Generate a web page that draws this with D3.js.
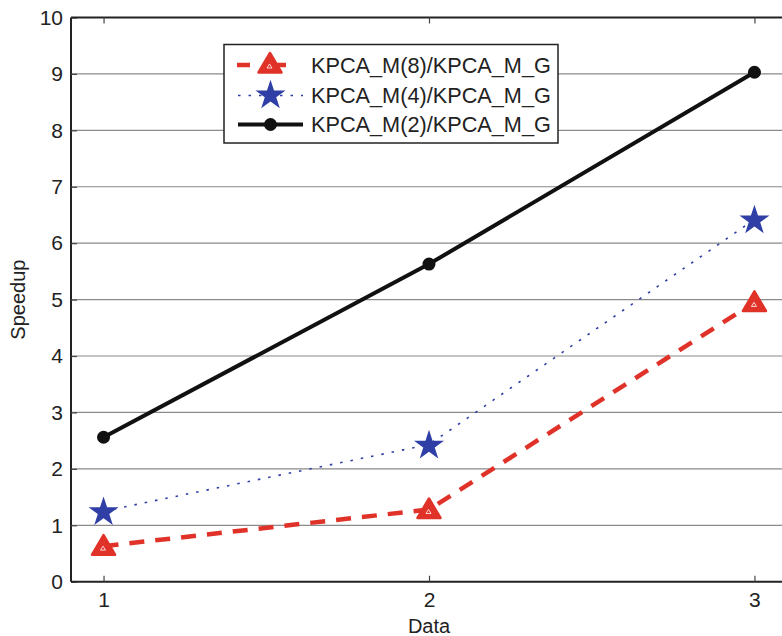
<!DOCTYPE html>
<html>
<head>
<meta charset="utf-8">
<script src="https://cdn.jsdelivr.net/npm/d3@7"></script>
<style>
body { margin: 0; background: #fff; }
text { font-family: "Liberation Sans", Arial, sans-serif; }
</style>
</head>
<body>
<script>
// chart values
const xVals = [1, 2, 3];
const yTicks = [0, 1, 2, 3, 4, 5, 6, 7, 8, 9, 10];
const seriesNames = ["KPCA_M(8)/KPCA_M_G", "KPCA_M(4)/KPCA_M_G", "KPCA_M(2)/KPCA_M_G"];
const m8 = [0.63, 1.28, 4.95];
const m4 = [1.25, 2.43, 6.42];
const m2 = [2.56, 5.63, 9.03];

const W = 782, H = 636;
const pLeft = 71, pRight = 787, pTop = 17.5, pBottom = 581.7;

const svg = d3.select("body").append("svg")
    .attr("width", W)
    .attr("height", H);

const x = d3.scaleLinear().domain([0.9, 3.1]).range([pLeft, pRight]);
const y = d3.scaleLinear().domain([0, 10]).range([pBottom, pTop]);

// horizontal grid
svg.append("g").selectAll("line")
    .data(yTicks.slice(1, -1))
    .join("line")
    .attr("x1", pLeft).attr("x2", pRight)
    .attr("y1", d => y(d)).attr("y2", d => y(d))
    .attr("stroke", "#8a8a8a")
    .attr("stroke-width", 1.2);

// axes
const yAxis = svg.append("g")
    .attr("transform", `translate(${pLeft},0)`)
    .call(d3.axisLeft(y).tickValues(yTicks).tickSize(-6).tickPadding(8).tickFormat(d3.format("d")));
const xAxis = svg.append("g")
    .attr("transform", `translate(0,${pBottom})`)
    .call(d3.axisBottom(x).tickValues(xVals).tickSize(-6).tickPadding(10).tickFormat(d3.format("d")));
const xTop = svg.append("g")
    .attr("transform", `translate(0,${pTop})`)
    .call(d3.axisTop(x).tickValues(xVals).tickSize(-6).tickFormat(""));
[yAxis, xAxis, xTop].forEach(g => {
    g.attr("font-size", null).attr("font-family", null);
    g.select(".domain").attr("stroke", "#222").attr("stroke-width", 2);
    g.selectAll(".tick line").attr("stroke", "#444").attr("stroke-width", 1.2);
    g.selectAll(".tick text").attr("font-size", 21).attr("fill", "#222");
});
xTop.select(".domain").attr("d", `M${pLeft},0H${pRight}`);
xAxis.select(".domain").attr("d", `M${pLeft},0H${pRight}`);
yAxis.select(".domain").attr("d", `M0,${pBottom}V${pTop}`);

// axis labels
svg.append("text")
    .attr("x", x(2)).attr("y", 633)
    .attr("text-anchor", "middle").attr("font-size", 20).attr("fill", "#222")
    .text("Data");
svg.append("text")
    .attr("transform", `translate(25,${(pTop + pBottom) / 2}) rotate(-90)`)
    .attr("text-anchor", "middle").attr("font-size", 20).attr("fill", "#222")
    .text("Speedup");

const line = d3.line().x((d, i) => x(xVals[i])).y(d => y(d));

function triangle(g, cx, cy) {
    g.append("path")
        .attr("d", `M${cx},${cy - 11}L${cx + 11.5},${cy + 8.5}L${cx - 11.5},${cy + 8.5}Z`)
        .attr("fill", "#e03228").attr("stroke", "#e03228").attr("stroke-width", 2.5)
        .attr("stroke-linejoin", "round");
    g.append("path")
        .attr("d", `M${cx - 0.5},${cy}L${cx + 2},${cy + 4}L${cx - 3},${cy + 4}Z`)
        .attr("fill", "none").attr("stroke", "#fff").attr("stroke-width", 0.8);
}
function star(g, cx, cy) {
    g.append("path")
        .attr("d", d3.symbol(d3.symbolStar, 280)())
        .attr("transform", `translate(${cx},${cy + 1})`)
        .attr("fill", "#2f3fa6");
}
function dot(g, cx, cy) {
    g.append("circle").attr("cx", cx).attr("cy", cy).attr("r", 6.5).attr("fill", "#111");
}

// series
svg.append("path").datum(m2).attr("d", line)
    .attr("fill", "none").attr("stroke", "#111").attr("stroke-width", 4);
svg.append("path").datum(m4).attr("d", line)
    .attr("fill", "none").attr("stroke", "#2f3fa6").attr("stroke-width", 1.6)
    .attr("stroke-dasharray", "2.5,8");
svg.append("path").datum(m8).attr("d", line)
    .attr("fill", "none").attr("stroke", "#e03228").attr("stroke-width", 4.5)
    .attr("stroke-dasharray", "15,11");

const mk = svg.append("g");
m2.forEach((v, i) => dot(mk, x(xVals[i]), y(v)));
m4.forEach((v, i) => star(mk, x(xVals[i]), y(v)));
m8.forEach((v, i) => triangle(mk, x(xVals[i]), y(v)));

// legend
const lg = svg.append("g");
lg.append("rect")
    .attr("x", 224).attr("y", 44.5).attr("width", 334).attr("height", 98.5)
    .attr("fill", "#fff").attr("stroke", "#222").attr("stroke-width", 1.5);
const rows = [65, 95.5, 124.5];
const styles = [
    { c: "#e03228", w: 4.5, dash: "13,23" , x0: 237, x1: 303 },
    { c: "#2f3fa6", w: 1.6, dash: "2.5,8", x0: 238, x1: 303 },
    { c: "#111", w: 4, dash: null, x0: 238, x1: 303 }
];
seriesNames.forEach((name, i) => {
    const s = styles[i];
    const ln = lg.append("line")
        .attr("x1", s.x0).attr("x2", s.x1)
        .attr("y1", rows[i]).attr("y2", rows[i])
        .attr("stroke", s.c).attr("stroke-width", s.w);
    if (s.dash) ln.attr("stroke-dasharray", s.dash);
    const cx = (s.x0 + s.x1) / 2;
    if (i === 0) triangle(lg, cx, rows[i] - 1);
    if (i === 1) star(lg, cx, rows[i] - 1);
    if (i === 2) dot(lg, cx, rows[i]);
    lg.append("text")
        .attr("x", 311).attr("y", rows[i] + 7.5)
        .attr("font-size", 21.7).attr("fill", "#222")
        .text(name);
});
</script>
</body>
</html>
